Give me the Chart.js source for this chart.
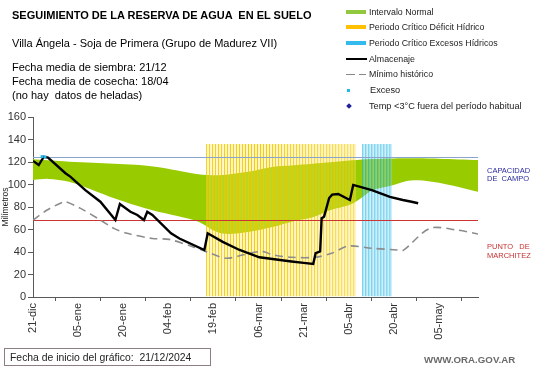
<!DOCTYPE html>
<html><head><meta charset="utf-8">
<script src="https://cdn.jsdelivr.net/npm/chart.js@4.4.1/dist/chart.umd.min.js"></script>
<style>
html,body{margin:0;padding:0;background:#fff;}
#wrap{position:relative;width:541px;height:368px;overflow:hidden;font-family:"Liberation Sans",Arial,sans-serif;color:#000;}
#c{position:absolute;left:0;top:0;}
.t{position:absolute;white-space:pre;line-height:1;}
.lg{position:absolute;left:346px;height:12px;display:flex;align-items:center;font-size:8.8px;color:#222;white-space:pre;}
.sw{display:inline-block;width:21px;margin-right:2px;position:relative;height:12px;}
.sw i{position:absolute;left:0;}
</style></head><body>
<div id="wrap">
<canvas id="c" width="541" height="368"></canvas>
<div class="t" style="left:12px;top:9.7px;font-size:11px;font-weight:bold;">SEGUIMIENTO DE LA RESERVA DE AGUA  EN EL SUELO</div>
<div class="t" style="left:12px;top:38.2px;font-size:11px;">Villa Ángela - Soja de Primera (Grupo de Madurez VII)</div>
<div class="t" style="left:12px;top:61.7px;font-size:11px;">Fecha media de siembra: 21/12</div>
<div class="t" style="left:12px;top:75.7px;font-size:11px;">Fecha media de cosecha: 18/04</div>
<div class="t" style="left:12px;top:89.7px;font-size:11px;">(no hay  datos de heladas)</div>

<div class="lg" style="top:5.5px;"><span class="sw"><i style="top:4px;width:20px;height:4px;background:#92c83e;"></i></span>Intervalo Normal</div>
<div class="lg" style="top:21.3px;"><span class="sw"><i style="top:4px;width:20px;height:4px;background:#ffc000;"></i></span>Periodo Crítico Déficit Hídrico</div>
<div class="lg" style="top:37.3px;"><span class="sw"><i style="top:4px;width:20px;height:4px;background:#33bbee;"></i></span>Periodo Crítico Excesos Hídricos</div>
<div class="lg" style="top:53.3px;"><span class="sw"><i style="top:5px;width:21px;height:2px;background:#000;"></i></span>Almacenaje</div>
<div class="lg" style="top:68px;"><span class="sw"><i style="top:5.5px;width:9px;height:1.5px;background:#888;"></i><i style="left:13px;top:5.5px;width:7px;height:1.5px;background:#888;"></i></span>Mínimo histórico</div>
<div class="lg" style="top:84px;font-size:9.2px;"><span class="sw" style="margin-right:3px;"><i style="left:1px;top:4.5px;width:3px;height:3px;background:#22b8e8;"></i></span>Exceso</div>
<div class="lg" style="top:99.5px;font-size:9.2px;"><span class="sw" style="margin-right:2px;"><i style="left:0.5px;top:4px;width:4px;height:4px;background:#1f1f9a;transform:rotate(45deg);"></i></span>Temp &lt;3°C fuera del período habitual</div>

<div class="t" style="left:487px;top:166.5px;font-size:7.5px;color:#2b2b9e;line-height:8.5px;">CAPACIDAD
DE  CAMPO</div>
<div class="t" style="left:487px;top:243px;font-size:7.5px;color:#c83232;line-height:8.5px;">PUNTO   DE
MARCHITEZ</div>

<div style="position:absolute;left:4px;top:348px;width:207px;height:18px;border:1px solid #8c7f7f;box-sizing:border-box;"></div>
<div class="t" style="left:10px;top:352.5px;font-size:10.4px;color:#222;">Fecha de inicio del gráfico:  21/12/2024</div>
<div class="t" style="left:424px;top:355px;font-size:9.7px;font-weight:bold;color:#6a6a6a;">WWW.ORA.GOV.AR</div>
</div>
<script>
// ---- data (days since 21-dic-2024) ----
const tickLabels = ['21-dic','05-ene','20-ene','04-feb','19-feb','06-mar','21-mar','05-abr','20-abr','05-may'];
const bandDays  = [0, 5, 12, 20, 27, 34, 40, 48, 55, 61, 65, 72, 80, 86, 93, 99, 106, 113, 119, 124, 128, 135, 148];
const bandUpper = [122.4, 121.5, 120.3, 119.4, 118.4, 117.5, 116, 112.5, 109.2, 108.3, 109, 111.5, 115.8, 117, 118.5, 119.8, 121.5, 122.7, 123.2, 123.4, 123.4, 123, 121.8];
const bandLower = [104, 105, 102.5, 95, 87.7, 81.5, 77, 72, 67, 58, 56, 58, 62.5, 67, 70.8, 77.3, 82.7, 95, 99, 103, 103.8, 101.6, 93.6];
const storageDays   = [0, 1.9, 3.6, 5, 10.8, 12.4, 17.4, 22.4, 27.4, 28.9, 32.4, 34.7, 36.9, 38, 39.7, 45.9, 48.7, 57, 58.1, 63.1, 68.7, 75.3, 80.3, 86, 90, 93.2, 94, 95.5, 96, 96.8, 98.5, 99.5, 101.5, 105.4, 106.5, 112.7, 118.7, 123, 125.9, 128.1];
const storageValues = [121, 117.3, 124.7, 124, 110, 107, 95, 84.7, 68.4, 82.7, 75.8, 72.9, 68.4, 75.8, 72.9, 56.6, 52, 41.8, 56.6, 49, 41.8, 35.3, 33.5, 31.5, 30.3, 29.3, 39, 40.5, 70, 71.4, 88, 91, 91.6, 86.2, 99.6, 95, 89, 86.2, 84.7, 83.3];
const minDays   = [0, 4.7, 9.7, 10.8, 15.8, 22.4, 26.9, 31.3, 39.7, 45.3, 53.1, 57.6, 64.2, 70, 76, 80, 86, 93.8, 99.3, 104.9, 112.7, 121, 123, 132, 141, 148];
const minValues = [68.4, 77.3, 84.1, 84.7, 78.8, 68.4, 61, 56.6, 52, 51.2, 44.7, 40.3, 34.5, 37.5, 40.5, 37.3, 35.3, 35.3, 38.8, 45.3, 43.3, 41.8, 41.2, 61, 59.6, 56];
const excesoDays   = [3, 4];
const excesoValues = [124.8, 124.5];
const deficitDays = [58,59,60,61,62,63,64,65,66,67,68,69,70,71,72,73,74,75,76,77,78,79,80,81,82,83,84,85,86,87,88,89,90,91,92,93,94,95,96,97,98,99,100,101,102,103,104,105,106,107];
const excesoPeriodDays = [110,111,112,113,114,115,116,117,118,119];
const periodTop = 136;
const capacidadCampo = 124;
const puntoMarchitez = 68;
const xMax = 148;

const pts = (xs, ys) => xs.map((x, i) => ({x, y: ys[i]}));
const flat = (xs, v) => xs.map(x => ({x, y: v}));

new Chart(document.getElementById('c'), {
  type: 'line',
  data: {
    datasets: [
      {label:'lower', data: pts(bandDays, bandLower), borderWidth:0, pointRadius:0, fill:false, order:11, tension:0.3},
      {label:'Intervalo Normal', data: pts(bandDays, bandUpper), borderWidth:0, pointRadius:0, fill:'-1', backgroundColor:'#99cc00', order:10, tension:0.3},
      {type:'bar', label:'Déficit', data: flat(deficitDays, periodTop), grouped:false, barPercentage:1, categoryPercentage:1,
       backgroundColor:'rgba(255,228,90,0.38)', borderColor:'rgba(242,200,0,0.95)', borderWidth:{left:1,right:0,top:0,bottom:0}, borderSkipped:false, inflateAmount:0, order:8},
      {type:'bar', label:'Excesos', data: flat(excesoPeriodDays, periodTop), grouped:false, barPercentage:1, categoryPercentage:1,
       backgroundColor:'rgba(130,215,240,0.4)', borderColor:'rgba(20,175,225,0.95)', borderWidth:{left:1,right:0,top:0,bottom:0}, borderSkipped:false, inflateAmount:0, order:8},
      {label:'cc', data: flat([0, xMax], capacidadCampo), borderColor:'#8aa4cc', borderWidth:1, pointRadius:0, fill:false, order:5},
      {label:'pm', data: flat([0, xMax], puntoMarchitez), borderColor:'#cc3333', borderWidth:1, pointRadius:0, fill:false, order:5},
      {label:'Mínimo histórico', data: pts(minDays, minValues), borderColor:'#8c8c8c', borderWidth:1.6, borderDash:[8,5], pointRadius:0, fill:false, order:3, tension:0.3},
      {label:'Almacenaje', data: pts(storageDays, storageValues), borderColor:'#000', borderWidth:2.4, pointRadius:0, fill:false, order:2, tension:0},
      {label:'Exceso', data: pts(excesoDays, excesoValues), showLine:false, pointStyle:'rect', pointRadius:2, backgroundColor:'#22b8e8', borderColor:'#22b8e8', borderWidth:0, order:1}
    ]
  },
  options: {
    responsive:false, animation:false, devicePixelRatio:1,
    layout:{padding:{top:117, right:63, left:0, bottom:0}},
    plugins:{legend:{display:false}, tooltip:{enabled:false}},
    scales:{
      x:{type:'linear', min:0, max:xMax, offset:false,
         grid:{drawOnChartArea:false, drawTicks:true, tickLength:4, color:'#595959'},
         border:{color:'#595959', width:1},
         ticks:{stepSize:15, includeBounds:false, autoSkip:false, minRotation:90, maxRotation:90, padding:2,
                color:'#333', font:{family:'Liberation Sans', size:11},
                callback:(v)=> (v % 15 === 0 ? tickLabels[v/15] : '')},
         afterFit:(s)=>{ s.height = 71; }
      },
      y:{type:'linear', min:0, max:160,
         grid:{drawOnChartArea:false, drawTicks:true, tickLength:5, color:'#595959'},
         border:{color:'#595959', width:1},
         ticks:{stepSize:20, padding:2, color:'#333', font:{family:'Liberation Sans', size:11}},
         title:{display:true, text:'Milímetros', color:'#222', font:{family:'Liberation Sans', size:8.5}, padding:{top:1,bottom:0}},
         afterFit:(s)=>{ s.width = 33; }
      }
    }
  }
});
</script>
</body></html>
